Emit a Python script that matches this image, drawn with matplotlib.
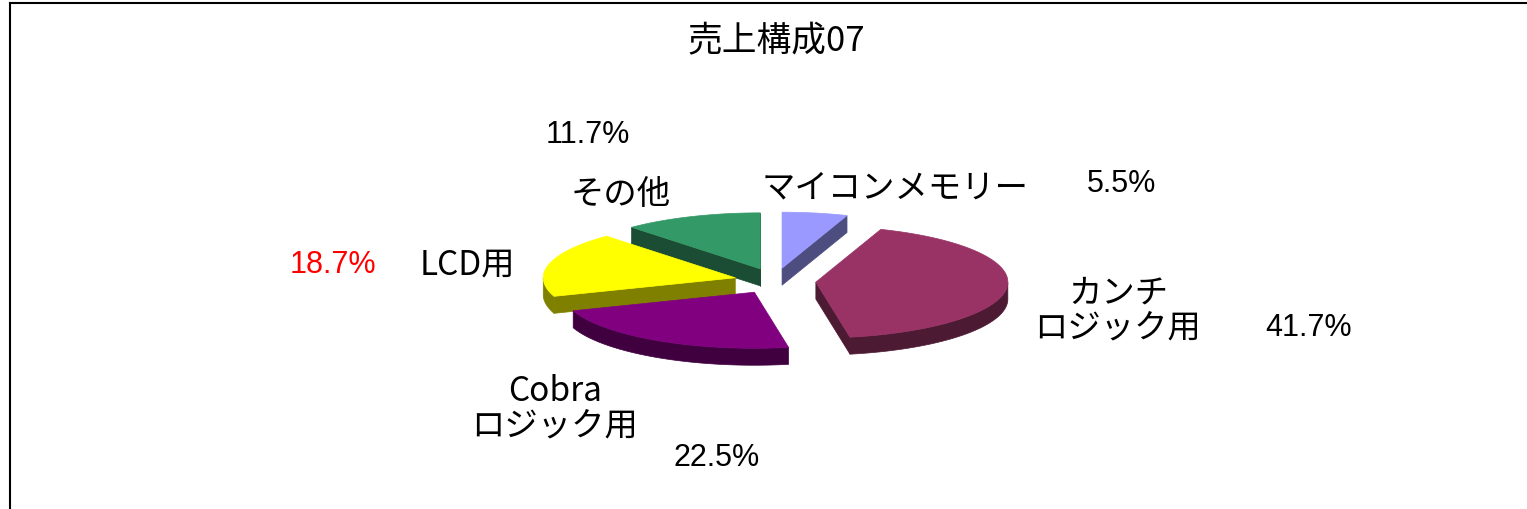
import numpy as np
import matplotlib.pyplot as plt
from matplotlib.patches import Polygon

names = ["マイコンメモリー", "カンチ\nロジック用", "Cobra\nロジック用", "LCD用", "その他"]
shares = [5.5, 41.7, 22.5, 18.7, 11.7]
pct_labels = ["5.5%", "41.7%", "22.5%", "18.7%", "11.7%"]
top_colors = ["#9999FF", "#993366", "#800080", "#FFFF00", "#339966"]
side_colors = ["#4D4D80", "#4D1A33", "#400040", "#808000", "#1A4D33"]

# label placement (pixel coords, y down)
name_pos = [(895, 188), (1118, 311), (555, 409), (467, 265), (621, 195)]
pct_pos = [(1122, 184), (1309, 328), (717, 458), (333, 265), (588, 135)]
pct_colors = ["black", "black", "black", "red", "black"]

W, H = 1527, 510
fig = plt.figure(figsize=(W / 100, H / 100), dpi=100)
ax = fig.add_axes([0, 0, 1, 1])
ax.set_xlim(0, W)
ax.set_ylim(H, 0)
ax.axis('off')

jp = ['Noto Sans CJK JP', 'DejaVu Sans']
num = ['Liberation Sans', 'DejaVu Sans']

# frame (left and top only visible)
ax.plot([10, 10], [H, 4], color='black', lw=1.5, clip_on=False)
ax.plot([10, W], [4, 4], color='black', lw=1.5, clip_on=False)

# 3D exploded pie geometry
cx, cy = 775, 282
rx, ry = 192, 56
ex, ey = 41, 13
depth = 17

total = sum(shares)
bounds = np.cumsum([0] + shares) / total * 360.0

slices = []
for i in range(len(shares)):
    a0, a1 = np.radians(bounds[i]), np.radians(bounds[i + 1])
    m = (a0 + a1) / 2
    ox, oy = ex * np.sin(m), -ey * np.cos(m)
    slices.append((cy + oy, i, a0, a1, ox, oy))

# back slices first
for _, i, a0, a1, ox, oy in sorted(slices):
    vx, vy = cx + ox, cy + oy
    th = np.linspace(a0, a1, 200)
    px_ = vx + rx * np.sin(th)
    py_ = vy - ry * np.cos(th)
    kw = dict(facecolor=side_colors[i], edgecolor=side_colors[i], lw=0.5)

    # radial walls that face the viewer
    for a, sgn in ((a0, -1), (a1, 1)):
        if sgn * np.sin(a) > 0:
            px, py = vx + rx * np.sin(a), vy - ry * np.cos(a)
            ax.add_patch(Polygon([(vx, vy), (px, py), (px, py + depth), (vx, vy + depth)], **kw))

    # outer curved wall, front half only
    front = np.cos(th) < 0
    if front.any():
        fx, fy = px_[front], py_[front]
        pts = list(zip(fx, fy)) + list(zip(fx[::-1], fy[::-1] + depth))
        ax.add_patch(Polygon(pts, **kw))

    # top face
    top = [(vx, vy)] + list(zip(px_, py_))
    ax.add_patch(Polygon(top, facecolor=top_colors[i], edgecolor=top_colors[i], lw=0.5))

# labels
for i in range(len(shares)):
    x, y = name_pos[i]
    ax.text(x, y, names[i], ha='center', va='center', fontsize=24,
            family=jp, linespacing=1.0)
    x, y = pct_pos[i]
    ax.text(x, y, pct_labels[i], ha='center', va='center', fontsize=22,
            family=num, color=pct_colors[i])

ax.text(776, 42, "売上構成07", ha='center', va='center', fontsize=25, family=jp)

plt.savefig('out.png', dpi=100)
